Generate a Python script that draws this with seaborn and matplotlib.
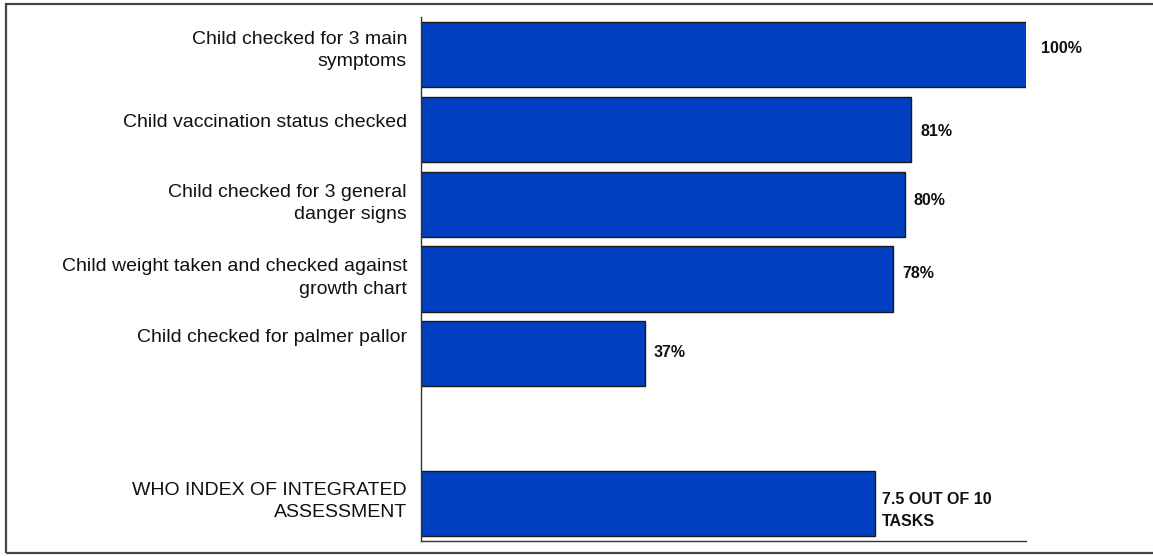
import matplotlib
matplotlib.use("Agg")
import matplotlib.pyplot as plt
from matplotlib.patches import Rectangle
import matplotlib.transforms as mtransforms
import seaborn as sns
import pandas as pd

# Indicator labels (top to bottom) and the share of consultations meeting each one
indicators = [
    "Child checked for 3 main\nsymptoms",
    "Child vaccination status checked",
    "Child checked for 3 general\ndanger signs",
    "Child weight taken and checked against\ngrowth chart",
    "Child checked for palmer pallor",
]
percentages = [100, 81, 80, 78, 37]
value_labels = ["100%", "81%", "80%", "78%", "37%"]

# Summary index: tasks completed out of the total
index_label = "WHO INDEX OF INTEGRATED\nASSESSMENT"
index_tasks_done = 7.5
index_tasks_total = 10
index_value_label = "7.5 OUT OF 10\nTASKS"

# Row order, with an empty spacer row before the summary index
spacer = " "
row_order = indicators + [spacer, index_label]

df = pd.DataFrame({
    "label": indicators + [index_label],
    "value": percentages + [index_tasks_done / index_tasks_total * 100],
    "text": value_labels + [index_value_label],
})

sns.set_theme(style="white")
plt.rcParams["font.family"] = ["Liberation Sans", "DejaVu Sans"]

fig = plt.figure(figsize=(11.53, 5.56), dpi=100)
ax = fig.add_axes([421 / 1153, 1 - 541 / 556, (1026 - 421) / 1153, (541 - 17) / 556])

sns.barplot(data=df, x="value", y="label", order=row_order, orient="h",
            color="#0040C0", saturation=1, edgecolor="#1a1a1a", linewidth=1.0,
            width=0.87, ax=ax)

ax.set_xlim(0, 100)
ax.set_ylim(len(row_order) - 0.5, -0.5)
ax.set_xlabel("")
ax.set_ylabel("")
ax.set_xticks([])
ax.set_yticks([])
for side in ("top", "right"):
    ax.spines[side].set_visible(False)
for side in ("left", "bottom"):
    ax.spines[side].set_color("#333333")
    ax.spines[side].set_linewidth(1.0)

# Category labels to the left of the axis (small vertical nudges in pixels)
label_nudge_px = [4, 7, 1, 1, 16, 2]
label_rows = [row_order.index(lbl) for lbl in df["label"]]
for lbl, row, nudge in zip(df["label"], label_rows, label_nudge_px):
    tr = mtransforms.blended_transform_factory(ax.transAxes, ax.transData)
    tr = tr + mtransforms.ScaledTranslation(-14 / 100, nudge / 100, fig.dpi_scale_trans)
    ax.text(0, row, lbl, transform=tr, ha="right", va="center",
            fontsize=14, color="#111111", linespacing=1.4)

# Value labels just past the end of each bar
value_offsets_px = [(15, 6), (9, -2), (9, 4), (9, 5), (9, 1), (7, -7)]
for (val, txt), row, (dx, dy) in zip(zip(df["value"], df["text"]), label_rows, value_offsets_px):
    ax.annotate(txt, xy=(val, row), xytext=(dx * 0.72, dy * 0.72),
                textcoords="offset points", ha="left", va="center",
                fontsize=11.5, fontweight="bold", color="#111111",
                linespacing=1.55, annotation_clip=False)

# Frame around the figure (its right edge runs past the canvas)
fig.patches.append(Rectangle((6 / 1153, 3 / 556), 1.0, 1 - 7 / 556,
                             transform=fig.transFigure, fill=False,
                             edgecolor="#444444", linewidth=1.6))

fig.savefig("out.png", dpi=100)
